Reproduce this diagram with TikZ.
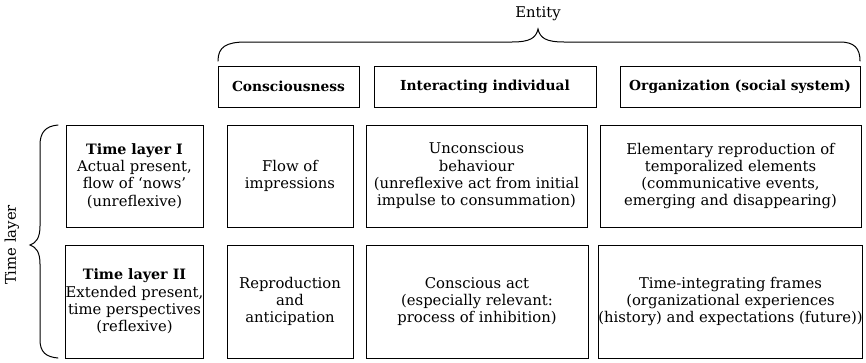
\documentclass[tikz,border=0pt]{standalone}
\usepackage{fontspec}
\setmainfont{DejaVu Serif}
\begin{document}
\begin{tikzpicture}[x=1pt,y=-1pt,
  every node/.style={font=\fontsize{14.8}{17.3}\selectfont},
  cell/.style={draw, line width=1pt, inner sep=0pt, align=center},
  head/.style={cell, minimum height=41pt, font=\fontsize{13.8}{17.3}\selectfont\bfseries},
  rowone/.style={cell, minimum height=102pt},
  rowtwo/.style={cell, minimum height=113pt},
  bracket/.style={line width=1pt, line cap=round}]
\useasboundingbox (0,0) rectangle (866,362);

% column headings
\node[head, minimum width=141pt] (hC) at (288.5,86.5) {Consciousness};
\node[head, minimum width=222pt] (hI) at (485,86.5) {Interacting individual};
\node[head, minimum width=240pt] (hO) at (740,86.5) {Organization (social system)};

% first time layer
\node[rowone, minimum width=137pt] (r1a) at (134.5,176) {{\fontsize{14.3}{17.3}\selectfont\bfseries Time layer I}\\Actual present,\\flow of `nows'\\(unreflexive)};
\node[rowone, minimum width=126pt] (r1b) at (290,176) {Flow of\\impressions};
\node[rowone, minimum width=221pt] (r1c) at (476.5,176) {Unconscious\\behaviour\\(unreflexive act from initial\\impulse to consummation)};
\node[rowone, minimum width=261pt] (r1d) at (730.5,176) {Elementary reproduction of\\temporalized elements\\(communicative events,\\emerging and disappearing)};

% second time layer
\node[rowtwo, minimum width=137pt] (r2a) at (134.5,301.5) {{\fontsize{14.3}{17.3}\selectfont\bfseries Time layer II}\\Extended present,\\time perspectives\\(reflexive)};
\node[rowtwo, minimum width=126pt] (r2b) at (290,301.5) {Reproduction\\and\\anticipation};
\node[rowtwo, minimum width=222pt] (r2c) at (477,301.5) {Conscious act\\(especially relevant:\\process of inhibition)};
\node[rowtwo, minimum width=261pt] (r2d) at (730.5,301.5) {Time-integrating frames\\(organizational experiences\\(history) and expectations (future))};

% brace over the entities
\node (entity) at (538,14) {Entity};
\draw[bracket] (218,61) .. controls (218,47) and (226,42) .. (246,42)
  -- (512,42) .. controls (530,42) and (536,38) .. (538,29)
  .. controls (540,38) and (546,42) .. (564,42)
  -- (840,42) .. controls (854,42) and (860,48) .. (860,61);

% brace beside the time layers
\node[rotate=90] (layer) at (12,245) {Time layer};
\draw[bracket] (58,125) .. controls (46,126) and (40,132) .. (40,145)
  -- (40,226) .. controls (40,238) and (36,243) .. (30,245)
  .. controls (36,247) and (40,252) .. (40,264)
  -- (40,340) .. controls (40,352) and (46,357) .. (58,358);
\end{tikzpicture}
\end{document}
